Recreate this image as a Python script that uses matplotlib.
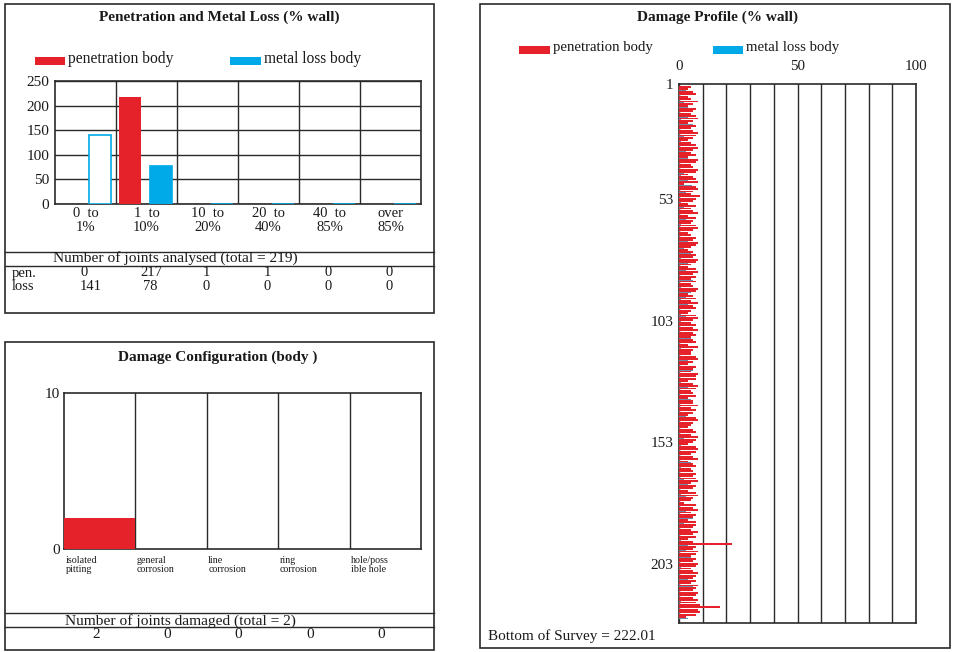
import numpy as np
import matplotlib
matplotlib.use("Agg")
import matplotlib.pyplot as plt
from matplotlib.patches import Rectangle
from matplotlib.lines import Line2D
from matplotlib.transforms import blended_transform_factory

plt.rcParams['font.family'] = ['Liberation Serif', 'DejaVu Serif']

# ---------------- data ----------------
# Penetration / metal loss histogram (number of joints per class)
wall_classes = ["0  to\n1%", "1  to\n10%", "10  to\n20%", "20  to\n40%", "40  to\n85%", "over\n85%"]
pen_counts = [0, 217, 1, 1, 0, 0]
loss_counts = [141, 78, 0, 0, 0, 0]
joints_analysed = 219

# Damage configuration (number of joints per damage type)
damage_types = ["isolated\npitting", "general\ncorrosion", "line\ncorrosion",
                "ring\ncorrosion", "hole/poss\nible hole"]
damage_counts = [2, 0, 0, 0, 0]

# Damage profile: per-joint penetration and metal loss (% wall), joints 7..225
first_joint = 7
profile_pen = [
    5, 4, 6, 7, 4, 5, 8, 6, 4, 7,
    6, 5, 7, 8, 6, 4, 7, 5, 6, 8,
    7, 6, 4, 5, 7, 8, 6, 5, 7, 4,
    8, 7, 5, 6, 8, 7, 4, 6, 7, 8,
    2, 7, 8, 6, 5, 9, 7, 6, 4, 7,
    5, 6, 8, 4, 7, 6, 5, 7, 8, 6,
    4, 5, 7, 6, 8, 7, 5, 4, 6, 7,
    6, 8, 7, 5, 4, 7, 8, 6, 7, 5,
    7, 5, 6, 8, 7, 4, 6, 7, 5, 8,
    6, 7, 5, 4, 7, 8, 6, 5, 7, 6,
    8, 6, 7, 5, 6, 7, 4, 8, 6, 5,
    5, 7, 8, 6, 4, 7, 6, 5, 8, 7,
    7, 4, 6, 8, 7, 5, 6, 7, 4, 6,
    6, 8, 5, 7, 6, 4, 7, 8, 6, 5,
    4, 6, 7, 5, 8, 7, 6, 4, 7, 8,
    7, 5, 6, 8, 4, 6, 7, 5, 6, 7,
    6, 7, 8, 5, 7, 6, 4, 7, 8, 6,
    5, 2, 7, 6, 8, 5, 7, 6, 4, 7,
    7, 6, 5, 8, 6, 7, 4, 6, 22.5, 7,
    6, 8, 7, 5, 7, 6, 8, 7, 5, 6,
    8, 7, 6, 7, 5, 8, 7, 6, 8, 7,
    6, 8, 7, 9, 17.5, 8, 9, 7, 3,
]
profile_loss = [
    0.5, 3, 0.7, 0.4, 5, 0.6, 2, 0.8, 4, 0.5,
    0.6, 0.4, 4, 0.7, 0.5, 6, 0.8, 0.3, 3, 0.6,
    2, 0.5, 0.7, 5, 0.4, 0.6, 3, 0.8, 0.5, 4,
    0.6, 0.5, 6, 0.4, 0.7, 2, 0.8, 0.5, 4, 0.6,
    5.5, 0.6, 0.4, 3, 0.7, 0.5, 4, 0.8, 0.6, 2,
    0.4, 5, 0.6, 0.7, 3, 0.5, 0.8, 0.4, 6, 0.6,
    3, 0.5, 0.7, 4, 0.6, 0.4, 2, 0.8, 5, 0.5,
    0.7, 0.5, 4, 0.6, 0.8, 3, 0.4, 0.6, 0.5, 6,
    0.5, 2, 0.7, 0.4, 5, 0.6, 3, 0.8, 0.5, 4,
    6, 0.6, 0.4, 0.7, 3, 0.5, 0.8, 4, 0.6, 0.5,
    0.4, 3, 0.6, 5, 0.7, 0.5, 2, 0.8, 0.4, 4,
    0.6, 0.5, 4, 0.7, 0.4, 0.8, 6, 0.5, 3, 0.6,
    2, 0.7, 0.5, 4, 0.6, 3, 0.4, 0.8, 5, 0.5,
    0.5, 0.6, 5, 0.4, 0.7, 3, 0.8, 0.5, 0.6, 4,
    0.6, 4, 0.5, 0.7, 2, 0.4, 6, 0.8, 3, 0.5,
    3, 0.5, 0.6, 0.4, 5, 0.7, 0.8, 4, 0.5, 0.6,
    0.5, 2, 0.7, 4, 0.6, 0.4, 5, 0.8, 3, 0.5,
    0.6, 4, 0.5, 0.7, 3, 0.4, 0.8, 6, 0.5, 2,
    0.4, 0.6, 5, 0.7, 0.5, 3, 0.8, 0.4, 4, 0.6,
    3, 0.5, 0.7, 5, 0.6, 0.4, 2, 0.8, 0.5, 4,
    0.6, 0.5, 4, 0.7, 0.4, 6, 0.8, 0.5, 3, 0.6,
    2, 0.7, 0.5, 5, 0.6, 3, 0.4, 0.8, 4,
]
profile_ticks = [53, 103, 153, 203]
bottom_of_survey = 222.01

# ---------------- styling ----------------
RED = "#E5222A"
BLUE = "#00AAE8"
PROFILE_LOSS = "#6d8cab"
INK = "#2a2a2a"
W, H = 954, 652

fig = plt.figure(figsize=(W / 100, H / 100), dpi=100)
fig.patch.set_facecolor("white")


def fx(x):
    return x / W


def fy(y):
    return 1 - y / H


def axes_px(l, t, r, b):
    return fig.add_axes([fx(l), fy(b), (r - l) / W, (b - t) / H])


def box_px(l, t, r, b):
    fig.add_artist(Rectangle((fx(l), fy(b)), (r - l) / W, (b - t) / H,
                             transform=fig.transFigure, fill=False,
                             edgecolor=INK, lw=1.2))


def hline_px(l, r, y):
    fig.add_artist(Line2D([fx(l), fx(r)], [fy(y), fy(y)], transform=fig.transFigure,
                          color=INK, lw=1.0))


def ftext(x, y, s, **kw):
    kw.setdefault("va", "center")
    kw.setdefault("color", "#1a1a1a")
    fig.text(fx(x), fy(y), s, **kw)


def legend_px(x, y, w, h, color, label, fs=11.2):
    fig.add_artist(Rectangle((fx(x), fy(y + h)), w / W, h / H, transform=fig.transFigure,
                             facecolor=color, edgecolor="none"))
    ftext(x + w + 3, y + h / 2 - 2, label, ha="left", fontsize=fs)


def style_axes(ax):
    for sp in ax.spines.values():
        sp.set_color(INK)
        sp.set_linewidth(1.2)
    ax.tick_params(length=0, colors="#1a1a1a")


# ================= Panel 1: Penetration and Metal Loss =================
box_px(5, 4, 434, 313)
ftext(219, 17, "Penetration and Metal Loss (% wall)", ha="center", fontsize=11, fontweight="bold")
legend_px(35, 57, 30, 8, RED, "penetration body")
legend_px(230, 57, 31, 8, BLUE, "metal loss body")

ax1 = axes_px(55, 81, 421, 204)
style_axes(ax1)
xc = np.arange(len(wall_classes))
bw = 0.36
ax1.bar(xc - 0.27, pen_counts, width=bw, color=RED, zorder=3)
loss_face = [("white" if i == 0 else BLUE) for i in range(len(loss_counts))]
ax1.bar(xc + 0.24, loss_counts, width=bw, color=loss_face, edgecolor=BLUE, lw=1.2, zorder=3)
ax1.set_xlim(-0.5, len(wall_classes) - 0.5)
ax1.set_ylim(0, 250)
ax1.set_yticks([0, 50, 100, 150, 200, 250])
ax1.yaxis.grid(True, color=INK, lw=1.0)
for b in xc[:-1] + 0.5:
    ax1.axvline(b, color=INK, lw=1.0)
ax1.set_axisbelow(True)
ax1.set_xticks(xc)
ax1.set_xticklabels(wall_classes, fontsize=10.5, linespacing=1.1)
ax1.tick_params(axis="y", labelsize=11, pad=4)
ax1.tick_params(axis="x", pad=2)

hline_px(5, 434, 252)
hline_px(5, 434, 266)
ftext(53, 258, f"Number of joints analysed (total = {joints_analysed})", ha="left", fontsize=11.1)
ftext(12, 273, "pen.", ha="left", fontsize=10.5)
ftext(12, 286, "loss", ha="left", fontsize=10.5)
pen_cols = [84, 151, 206, 267, 328, 389]
loss_cols = [91, 150, 206, 267, 328, 389]
for x, v in zip(pen_cols, pen_counts):
    ftext(x, 273, str(v), ha="center", fontsize=10.5)
for x, v in zip(loss_cols, loss_counts):
    ftext(x, 286, str(v), ha="center", fontsize=10.5)

# ================= Panel 2: Damage Configuration =================
box_px(5, 342, 434, 650)
ftext(218, 357, "Damage Configuration (body )", ha="center", fontsize=11, fontweight="bold")

ax2 = axes_px(64, 393, 421, 549)
style_axes(ax2)
dc = np.arange(len(damage_types))
ax2.bar(dc, damage_counts, width=1.0, color=RED, zorder=3)
ax2.set_xlim(-0.5, len(damage_types) - 0.5)
ax2.set_ylim(0, 10)
ax2.set_yticks([0, 10])
ax2.tick_params(axis="y", labelsize=11, pad=3)
ax2.set_xticks([])
for b in dc[:-1] + 0.5:
    ax2.axvline(b, color=INK, lw=1.0)
tr = blended_transform_factory(ax2.transData, ax2.transAxes)
for i, name in enumerate(damage_types):
    ax2.text(i - 0.48, -0.045, name, transform=tr, ha="left", va="top",
             fontsize=7.2, linespacing=1.0, color="#1a1a1a")

hline_px(5, 434, 613)
hline_px(5, 434, 627)
ftext(65, 621, f"Number of joints damaged (total = {sum(damage_counts)})", ha="left", fontsize=11.1)
for i, v in enumerate(damage_counts):
    xp = 64 + (i + 0.5) * (421 - 64) / len(damage_types) - 4
    ftext(xp, 635, str(v), ha="center", fontsize=11)

# ================= Panel 3: Damage Profile =================
box_px(480, 4, 950, 648)
ftext(718, 17, "Damage Profile (% wall)", ha="center", fontsize=11, fontweight="bold")
legend_px(519, 46, 31, 8, RED, "penetration body", fs=10.6)
legend_px(713, 46, 30, 8, BLUE, "metal loss body", fs=10.6)

ax3 = axes_px(679, 84, 916, 623)
style_axes(ax3)
joints = first_joint + np.arange(len(profile_pen))
ax3.barh(joints - 0.11, profile_pen, height=0.78, color=RED, lw=0, zorder=3)
ax3.barh(joints + 0.39, profile_loss, height=0.22, color=PROFILE_LOSS, lw=0, zorder=3)
ax3.set_xlim(0, 100)
ax3.set_ylim(227.3, 5.7)
xt = np.arange(0, 101, 10)
ax3.set_xticks(xt)
ax3.set_xticklabels([str(v) if v % 50 == 0 else "" for v in xt])
ax3.xaxis.tick_top()
ax3.xaxis.grid(True, color=INK, lw=1.0)
ax3.set_axisbelow(True)
ax3.tick_params(axis="x", labelsize=10.8, pad=8)
ax3.set_yticks([5.7] + profile_ticks)
ax3.set_yticklabels(["1"] + [str(t) for t in profile_ticks])
ax3.tick_params(axis="y", labelsize=11, pad=4)

ftext(488, 636, f"Bottom of Survey = {bottom_of_survey:.2f}", ha="left", fontsize=11)

fig.savefig("out.png", dpi=100, facecolor="white")
